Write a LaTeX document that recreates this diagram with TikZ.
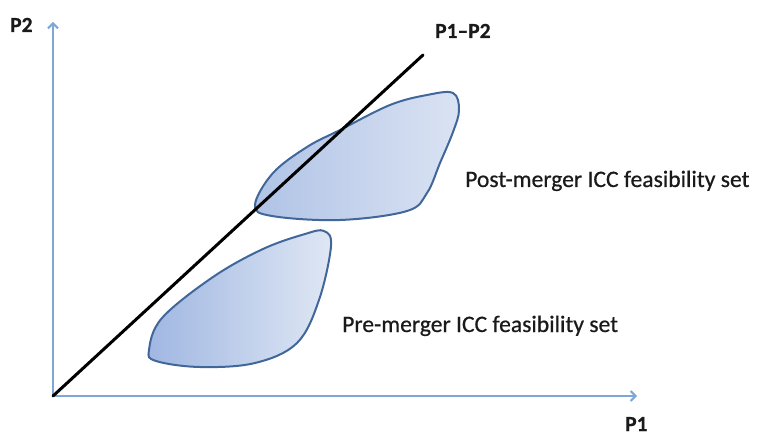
\documentclass[tikz,border=0pt]{standalone}
\usepackage{fontspec}
\setmainfont{Carlito}[FakeBold=0.6]
\newfontfamily\labelfont{Carlito}[FakeBold=0.6]
\usetikzlibrary{arrows.meta}
\definecolor{axisblue}{HTML}{7EA6D8}
\definecolor{blobedge}{HTML}{41679A}
\definecolor{txt}{HTML}{1A1A1A}
\tikzset{
  axisline/.style={draw=axisblue, line width=2pt, -{Straight Barb[length=5pt,width=10pt,line width=2pt]}},
  blob/.style={draw=blobedge, line width=2pt},
  biglabel/.style={inner sep=0pt, anchor=base west, text=txt, font=\labelfont\fontsize{23.6}{28}\selectfont},
  plabel/.style={inner sep=0pt, anchor=base west, text=txt, font=\labelfont\bfseries\fontsize{21.5}{26}\selectfont},
}
\begin{document}
\begin{tikzpicture}[x=1pt,y=-1pt]
\useasboundingbox (0,0) rectangle (757,435);
% coordinates
\coordinate (O) at (53,396);
\coordinate (Xend) at (637,396);
\coordinate (Yend) at (53,22);
\coordinate (Lend) at (423,55);
% axes
\draw[axisline] (O) -- (Xend);
\draw[axisline] (O) -- (Yend);
% pre-merger blob
\path[blob, shading=axis, left color={rgb,255:red,160;green,183;blue,226}, right color={rgb,255:red,223;green,231;blue,244}]
  plot[smooth cycle, tension=0.6] coordinates {
   (149,350) (162,318) (213,277) (263,249) (305,234) (324,231) (331,246)
   (319,300) (297,343) (255,363) (200,367) (156,361)};
% post-merger blob
\path[blob, shading=axis, shading angle=300, left color={rgb,255:red,176;green,195;blue,230}, right color={rgb,255:red,218;green,227;blue,243}]
  plot[smooth cycle, tension=0.6] coordinates {
   (255,205) (273,173) (307,147) (340,130) (390,105) (427,95) (453,93)
   (459,110) (453,132) (440,163) (427,193) (407,211) (340,220) (272,216)};
% 45-degree line
\draw[line width=3pt, line cap=round, black] (O) -- (Lend);
% labels
\node[plabel] (p2) at (10,32) {P2};
\node[plabel] (p1) at (625,431) {P1};
\node[plabel] (p12) at (435,38) {P1–P2};
\node[biglabel] (post) at (465,187) {Post-merger ICC feasibility set};
\node[biglabel] (pre) at (342,332) {Pre-merger ICC feasibility set};
\end{tikzpicture}
\end{document}
